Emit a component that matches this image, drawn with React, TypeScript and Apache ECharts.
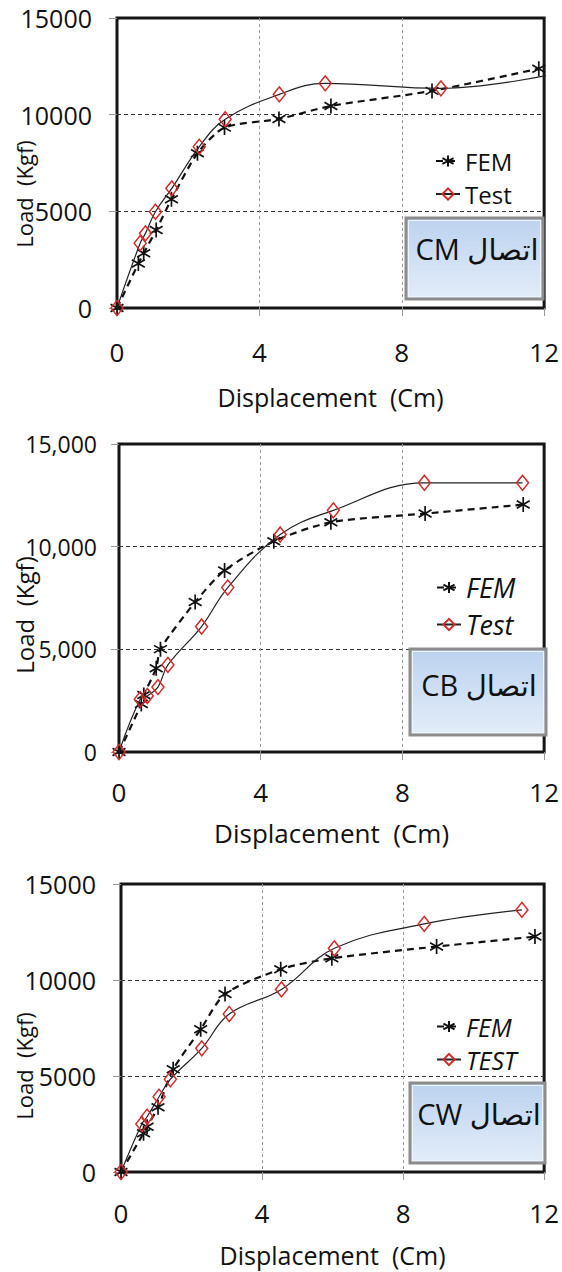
import React, { useEffect, useRef } from "react";
import * as echarts from "echarts";

// ---- data (displacement in Cm, load in Kgf) ----
const xFEM1 = [0, 0.6, 0.75, 1.1, 1.53, 2.26, 3.02, 4.55, 6.01, 8.85, 11.85];
const yFEM1 = [0, 2300, 2830, 4030, 5620, 8000, 9330, 9780, 10450, 11230, 12380];
const xTest1 = [0, 0.65, 0.8, 1.08, 1.54, 2.31, 3.04, 4.56, 5.85, 9.1, 12.4];
const yTest1 = [0, 3350, 3860, 4980, 6190, 8340, 9760, 11050, 11620, 11360, 12150];

const xFEM2 = [0, 0.63, 0.7, 1.05, 1.17, 2.15, 2.98, 4.37, 5.98, 8.64, 11.41];
const yFEM2 = [0, 2340, 2780, 4080, 5010, 7300, 8840, 10260, 11190, 11610, 12050];
const xTest2 = [0, 0.6, 0.8, 1.1, 1.38, 2.33, 3.07, 4.55, 6.05, 8.62, 11.39];
const yTest2 = [0, 2570, 2730, 3160, 4240, 6110, 8010, 10590, 11770, 13110, 13110];

const xFEM3 = [0, 0.64, 0.74, 1.05, 1.48, 2.26, 2.95, 4.53, 5.98, 8.95, 11.74];
const yFEM3 = [0, 2020, 2360, 3370, 5350, 7430, 9270, 10560, 11130, 11740, 12260];
const xTest3 = [0, 0.59, 0.74, 1.08, 1.4, 2.29, 3.07, 4.55, 6.05, 8.6, 11.37];
const yTest3 = [0, 2500, 2880, 3920, 4830, 6440, 8230, 9510, 11650, 12920, 13650];

const seriesNames = [
  ["FEM", "Test"],
  ["FEM", "Test"],
  ["FEM", "TEST"],
];
const boxTexts = ["CM اتصال", "CB اتصال", "CW اتصال"];
const xTitle = "Displacement  (Cm)";
const yTitle = "Load  (Kgf)";

const FONT = "'Open Sans', 'DejaVu Sans', sans-serif";
const STAR = "path://M5,0L5,10M0.7,2.5L9.3,7.5M0.7,7.5L9.3,2.5";

const pairs = (xs: number[], ys: number[]) => xs.map((x, i) => [x, ys[i]]);

const layouts = [
  {
    grid: { left: 117, top: 18, width: 429, height: 290 },
    yMargin: 25, xMargin: 31, nameGap: 76, nameSize: 25, yLabelSize: 25,
    comma: false,
    legend: { left: 430, top: 144, size: 24, gap: 9, italic: false },
    box: { x: 406, y: 218, w: 137, h: 81, tx: 477, ty: 248 },
    yName: { x: 24, y: 194, size: 22 },
  },
  {
    grid: { left: 119, top: 444, width: 429, height: 308 },
    yMargin: 22, xMargin: 27, nameGap: 68, nameSize: 26, yLabelSize: 23,
    comma: true,
    legend: { left: 431, top: 569, size: 27, gap: 10, italic: true },
    box: { x: 410, y: 649, w: 136, h: 86, tx: 479, ty: 684 },
    yName: { x: 24, y: 615, size: 24 },
  },
  {
    grid: { left: 121, top: 884, width: 427, height: 288 },
    yMargin: 25, xMargin: 28, nameGap: 70, nameSize: 25, yLabelSize: 25,
    comma: false,
    legend: { left: 431, top: 1009, size: 25, gap: 8, italic: true },
    box: { x: 410, y: 1083, w: 135, h: 80, tx: 479, ty: 1113 },
    yName: { x: 24, y: 1066, size: 22 },
  },
];

const dataSets = [
  [pairs(xFEM1, yFEM1), pairs(xTest1, yTest1)],
  [pairs(xFEM2, yFEM2), pairs(xTest2, yTest2)],
  [pairs(xFEM3, yFEM3), pairs(xTest3, yTest3)],
];

export default function App() {
  const ref = useRef<HTMLDivElement>(null);
  useEffect(() => {
    document.body.style.margin = "0";
    const chart = echarts.init(ref.current as HTMLDivElement, null, { renderer: "svg" });

    const grids: any[] = [];
    const xAxes: any[] = [];
    const yAxes: any[] = [];
    const series: any[] = [];
    const legends: any[] = [];
    const graphics: any[] = [];

    layouts.forEach((L, i) => {
      grids.push({ ...L.grid, show: true, borderColor: "#151515", borderWidth: 3, backgroundColor: "#fff", z: 0 });
      xAxes.push({
        type: "value", gridIndex: i, min: 0, max: 12, interval: 4,
        axisLine: { show: false },
        axisTick: { show: true, length: 8, lineStyle: { color: "#9a9a9a", width: 1 } },
        axisLabel: { fontSize: 26, color: "#111", margin: L.xMargin, fontFamily: FONT },
        splitLine: { show: true, showMinLine: false, showMaxLine: false, lineStyle: { color: "#9a9a9a", type: [3, 3], width: 1 } },
        name: xTitle, nameLocation: "middle", nameGap: L.nameGap,
        nameTextStyle: { fontSize: L.nameSize, color: "#111", fontFamily: FONT },
      });
      yAxes.push({
        type: "value", gridIndex: i, min: 0, max: 15000, interval: 5000,
        axisLine: { show: false },
        axisTick: { show: true, length: 8, lineStyle: { color: "#9a9a9a", width: 1 } },
        axisLabel: {
          fontSize: L.yLabelSize, color: "#111", margin: L.yMargin, fontFamily: FONT,
          formatter: (v: number) => (L.comma ? v.toLocaleString("en-US") : String(v)),
        },
        splitLine: { show: true, showMinLine: false, showMaxLine: false, lineStyle: { color: "#333", type: [4, 3], width: 1 } },
      });
      const [fem, test] = dataSets[i];
      series.push({
        type: "line", name: seriesNames[i][0], xAxisIndex: i, yAxisIndex: i, data: fem,
        smooth: 0.25, symbol: STAR, symbolSize: 15, symbolKeepAspect: true, showAllSymbol: true,
        lineStyle: { color: "#111", width: 2.2, type: [7, 5] },
        itemStyle: { color: "rgba(0,0,0,0)", borderColor: "#111", borderWidth: 1.7 },
        z: 3,
      });
      series.push({
        type: "line", name: seriesNames[i][1], xAxisIndex: i, yAxisIndex: i, data: test,
        smooth: 0.4, symbol: "diamond", symbolSize: [12, 15], showAllSymbol: true,
        lineStyle: { color: "#222", width: 1.2 },
        itemStyle: { color: "rgba(255,255,255,0)", borderColor: "#d42a2a", borderWidth: 1.5 },
        z: 4,
      });
      legends.push({
        orient: "vertical", left: L.legend.left, top: L.legend.top,
        itemWidth: 24, itemHeight: 14, itemGap: L.legend.gap, selectedMode: false,
        data: seriesNames[i],
        textStyle: {
          fontSize: L.legend.size, lineHeight: L.legend.size, color: "#111", fontFamily: FONT,
          fontStyle: L.legend.italic ? "italic" : "normal",
        },
      });
      const b = L.box;
      graphics.push({
        type: "rect", shape: { x: b.x, y: b.y, width: b.w, height: b.h }, z: 10,
        style: {
          fill: new echarts.graphic.LinearGradient(0, 0, 0, 1, [
            { offset: 0, color: "#bcd2ef" },
            { offset: 1, color: "#e3edf9" },
          ]),
          stroke: "#8c8c8c", lineWidth: 3,
        },
      });
      graphics.push({
        type: "rect", shape: { x: b.x + 2.5, y: b.y + 2.5, width: b.w - 5, height: b.h - 5 }, z: 10,
        style: { fill: "none", stroke: "#eef4fc", lineWidth: 1 },
      });
      graphics.push({
        type: "text", x: b.tx, y: b.ty, z: 11,
        style: {
          text: boxTexts[i], fontSize: 29, fontFamily: FONT, fill: "#111",
          align: "center", verticalAlign: "middle", textAlign: "center", textVerticalAlign: "middle",
        },
      });
      graphics.push({
        type: "text", x: L.yName.x, y: L.yName.y, rotation: Math.PI / 2, z: 11,
        style: {
          text: yTitle, fontSize: L.yName.size, fontFamily: FONT, fill: "#111",
          align: "center", verticalAlign: "middle", textAlign: "center", textVerticalAlign: "middle",
        },
      });
    });

    chart.setOption({
      animation: false,
      backgroundColor: "#fff",
      grid: grids,
      xAxis: xAxes,
      yAxis: yAxes,
      series,
      legend: legends,
      graphic: graphics,
    });
    return () => chart.dispose();
  }, []);
  return <div ref={ref} style={{ width: 562, height: 1272 }} />;
}
